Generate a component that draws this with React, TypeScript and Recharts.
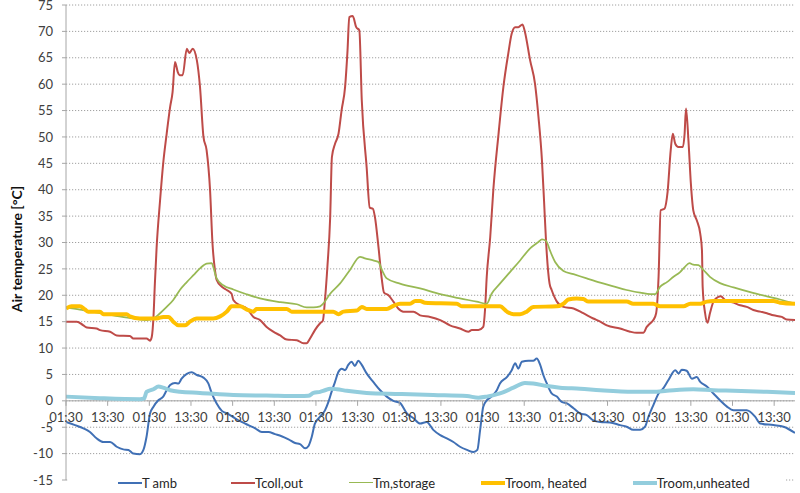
import React from "react"
import {
  LineChart,
  Line,
  XAxis,
  YAxis,
  CartesianGrid,
  ReferenceLine,
  Legend,
} from "recharts"

// hours since first 01:30 reading, value in °C
const tAmb: [number, number][] = [
  [0, -4.0], [2.6, -4.6], [5.0, -5.2], [6.9, -5.9], [8.8, -7.1], [10.8, -7.8], [12.7, -7.8],
  [14.6, -8.7], [16.5, -9.2], [18.0, -9.3], [19.4, -10.0], [21.3, -10.1], [22.3, -9.3], [23.2, -6.8],
  [24.2, -2.4], [25.2, -1.1], [26.6, 0.1], [28.0, 0.8], [29.0, 2.0], [30.0, 3.0], [31.4, 3.4],
  [32.4, 3.3], [33.3, 4.2], [34.8, 5.1], [36.2, 5.4], [37.7, 4.9], [39.6, 4.4], [41.0, 3.3],
  [42.0, 1.4], [43.4, -0.5], [44.9, -1.9], [46.8, -2.5], [48.7, -3.3], [50.6, -4.0], [52.5, -4.6],
  [54.5, -5.2], [56.4, -5.9], [58.3, -5.9], [60.2, -6.3], [62.1, -6.7], [64.1, -7.3], [66.0, -8.0],
  [67.4, -8.2], [68.9, -9.0], [69.8, -8.6], [70.8, -6.8], [71.7, -4.3], [73.2, -3.0], [74.6, -1.8],
  [75.6, -0.2], [76.5, 1.7], [77.5, 3.6], [78.5, 5.5], [79.4, 6.1], [80.4, 5.8], [81.3, 6.8],
  [82.3, 7.4], [83.2, 6.6], [84.2, 7.6], [85.2, 6.8], [86.6, 5.2], [88.5, 3.6], [90.5, 2.0],
  [92.4, 0.8], [94.3, 0.0], [96.2, -0.4], [98.2, -2.4], [100.1, -3.3], [102.0, -4.3], [103.9, -4.0],
  [105.8, -5.5], [107.8, -6.5], [109.7, -7.1], [111.6, -7.8], [113.5, -8.7], [115.5, -9.3],
  [117.4, -9.7], [118.5, -9.3], [119.3, -5.5], [120.2, -1.1], [121.2, 0.1], [122.6, 0.8],
  [124.1, 2.0], [125.0, 3.3], [127.0, 4.5], [128.4, 5.8], [129.4, 7.1], [130.3, 6.1], [131.3, 7.4],
  [133.2, 7.6], [134.6, 7.6], [135.6, 8.0], [136.6, 6.8], [137.5, 4.9], [138.5, 3.3], [139.9, 1.4],
  [141.4, 0.8], [142.8, -0.2], [144.3, -0.5], [146.2, -1.4], [148.1, -2.4], [150.0, -2.7],
  [151.9, -3.7], [153.9, -4.0], [156.7, -4.1], [159.6, -4.6], [161.5, -4.9], [163.4, -5.5],
  [165.4, -5.5], [166.8, -4.9], [167.8, -3.0], [169.2, -0.8], [170.7, 1.4], [172.1, 2.4],
  [173.5, 3.9], [175.5, 5.8], [176.5, 5.2], [177.4, 5.9], [178.8, 5.7], [180.3, 4.2], [181.7, 4.5],
  [182.7, 3.6], [184.6, 2.7], [186.5, 1.4], [188.4, 0.1], [190.4, -1.1], [192.3, -1.8],
  [196.1, -1.8], [198.5, -3.0], [200.0, -4.3], [203.8, -4.6], [206.7, -4.9], [210, -6.1],
]

const tCollOut: [number, number][] = [
  [0, 15.0], [3.1, 15.0], [5.0, 14.3], [6.0, 13.9], [8.8, 13.7], [9.8, 13.4], [12.7, 13.1],
  [14.6, 12.4], [18.4, 12.3], [19.4, 11.8], [23.2, 11.8], [24.2, 11.4], [24.7, 12.1], [25.2, 15.9],
  [25.6, 22.2], [26.1, 29.0], [27.1, 38.0], [28.0, 45.0], [29.0, 50.6], [30.0, 55.7], [30.7, 58.5],
  [31.4, 64.2], [32.2, 62.3], [32.8, 61.7], [33.6, 61.7], [34.8, 66.7], [35.5, 65.9], [36.5, 66.7],
  [37.7, 64.5], [38.6, 59.5], [39.6, 50.0], [40.5, 47.5], [41.5, 39.9], [42.2, 29.8], [42.9, 24.8],
  [43.4, 22.9], [44.9, 21.6], [46.3, 21.0], [47.7, 20.3], [48.2, 19.1], [50.1, 18.1], [52.1, 17.5],
  [54.0, 15.9], [55.9, 15.3], [57.8, 14.0], [59.7, 13.1], [61.7, 12.4], [63.6, 11.6], [66.5, 11.5],
  [68.4, 10.9], [69.3, 10.9], [70.3, 11.8], [71.7, 13.4], [73.2, 14.7], [74.0, 15.2], [74.6, 19.1],
  [75.3, 25.4], [76.1, 34.8], [76.6, 46.2], [77.5, 48.7], [78.5, 50.6], [79.4, 55.1], [80.4, 59.5],
  [81.1, 66.4], [81.6, 72.7], [82.6, 72.9], [83.6, 70.8], [84.5, 70.2], [85.2, 57.0], [86.6, 44.3],
  [87.5, 36.6], [88.4, 36.4], [89.0, 34.8], [90.0, 29.2], [91.0, 22.9], [91.6, 20.5], [92.9, 20.0],
  [94.3, 18.8], [95.7, 17.5], [97.2, 16.9], [100.1, 16.9], [102.0, 16.2], [104.9, 15.9],
  [107.8, 15.3], [110.6, 14.3], [113.5, 13.7], [115.9, 13.1], [116.9, 13.4], [118.8, 13.4],
  [120.2, 14.0], [120.7, 17.2], [121.2, 23.5], [122.2, 31.0], [123.1, 40.0], [124.6, 50.6],
  [126.0, 59.5], [127.4, 65.8], [128.4, 69.6], [129.4, 70.8], [130.3, 70.8], [131.5, 71.3],
  [132.2, 69.9], [133.7, 64.5], [135.1, 60.1], [136.1, 53.8], [137.1, 45.6], [137.7, 38.0],
  [138.3, 30.0], [139.3, 22.2], [139.9, 21.0], [141.4, 18.8], [143.3, 17.8], [146.2, 17.5],
  [149.0, 16.6], [151.9, 15.6], [153.9, 15.0], [155.8, 14.3], [159.6, 13.7], [162.5, 13.1],
  [164.4, 12.9], [166.3, 12.9], [167.3, 14.0], [168.3, 14.7], [169.2, 15.3], [170.0, 16.6],
  [170.7, 23.5], [171.3, 36.1], [172.4, 36.4], [173.3, 39.6], [174.2, 47.5], [174.8, 50.6],
  [175.5, 48.7], [176.4, 48.1], [177.7, 48.1], [178.2, 50.6], [178.6, 55.4], [179.3, 49.4],
  [180.0, 41.2], [180.7, 36.1], [181.7, 34.2], [182.7, 31.7], [183.2, 28.5], [183.4, 21.6],
  [184.1, 16.6], [184.8, 14.8], [185.5, 16.6], [186.5, 18.8], [187.9, 19.7], [188.6, 19.8],
  [189.9, 19.1], [192.3, 18.6], [194.2, 18.1], [196.1, 17.8], [198.0, 17.2], [200.0, 16.9],
  [201.9, 16.6], [203.8, 16.2], [206.2, 15.9], [207.6, 15.4], [210, 15.3],
]

const tmStorage: [number, number][] = [
  [0, 17.7], [4.0, 17.3], [9.8, 16.6], [13.6, 16.2], [19.4, 15.6], [23.2, 15.3], [25.2, 15.6],
  [27.1, 16.6], [29.0, 17.8], [30.9, 19.1], [32.8, 21.0], [34.8, 22.5], [36.7, 23.8], [38.6, 25.1],
  [40.5, 26.0], [42.0, 26.1], [42.4, 25.4], [43.4, 23.2], [45.3, 21.9], [48.2, 21.1], [52.0, 20.2],
  [55.9, 19.4], [61.7, 18.7], [66.5, 18.3], [69.3, 17.7], [71.3, 17.7], [73.2, 17.9], [74.1, 18.4],
  [76.1, 20.3], [78.9, 22.2], [81.8, 24.8], [84.7, 27.3], [86.1, 27.0], [88.5, 26.6], [90.0, 26.3],
  [91.0, 24.8], [92.4, 23.2], [96.2, 22.2], [102.0, 21.3], [107.8, 20.2], [113.5, 19.4],
  [118.3, 18.8], [121.2, 18.4], [122.6, 20.3], [125.0, 22.2], [127.9, 24.4], [130.8, 26.6],
  [133.7, 28.9], [136.1, 30.1], [137.1, 30.6], [138.3, 30.3], [139.4, 28.5], [140.9, 26.3],
  [143.3, 24.6], [146.2, 24.0], [150.0, 23.2], [153.9, 22.4], [157.7, 21.7], [161.5, 21.0],
  [165.4, 20.5], [168.3, 20.2], [169.7, 20.2], [171.1, 21.6], [173.1, 22.5], [175.0, 23.5],
  [176.9, 24.4], [178.3, 25.4], [179.6, 26.1], [180.7, 25.8], [182.2, 25.7], [183.6, 24.8],
  [185.5, 23.5], [188.4, 22.3], [192.3, 21.5], [197.1, 20.6], [201.9, 19.8], [205.7, 19.2],
  [210, 18.4],
]

const troomHeated: [number, number][] = [
  [0, 17.5], [1.6, 17.9], [4.0, 17.9], [5.5, 17.3], [6.4, 16.9], [9.8, 16.9], [10.8, 16.4],
  [17.5, 16.4], [18.4, 16.0], [21.3, 15.6], [26.1, 15.6], [28.0, 15.9], [29.5, 15.9], [30.9, 15.0],
  [32.4, 14.3], [34.3, 14.3], [35.7, 15.0], [37.7, 15.6], [42.4, 15.6], [44.4, 16.0], [46.3, 16.9],
  [47.7, 17.9], [50.1, 17.9], [52.1, 17.3], [54.0, 16.9], [54.9, 17.4], [63.6, 17.4], [65.0, 16.9],
  [77.0, 16.9], [78.5, 16.4], [79.9, 16.9], [83.8, 17.1], [85.2, 17.8], [86.6, 17.4], [92.4, 17.4],
  [94.3, 18.0], [96.2, 18.4], [99.1, 18.4], [100.6, 18.9], [102.0, 18.9], [103.4, 18.6],
  [112.6, 18.4], [114.0, 17.9], [125.0, 17.9], [127.0, 16.9], [128.9, 16.4], [130.8, 16.4],
  [132.7, 16.9], [134.6, 17.8], [141.4, 17.9], [143.3, 18.4], [144.7, 19.2], [147.1, 19.4],
  [149.0, 19.3], [150.5, 18.8], [161.5, 18.8], [163.4, 18.4], [169.2, 18.4], [171.1, 17.9],
  [177.9, 17.9], [179.8, 18.4], [182.7, 18.4], [184.6, 18.8], [186.5, 18.9], [203.8, 18.9],
  [205.7, 18.6], [210, 18.4],
]

const troomUnheated: [number, number][] = [
  [0, 0.8], [9.8, 0.5], [21.3, 0.3], [22.5, 0.45], [23.2, 1.7], [25.2, 2.2], [26.6, 2.7],
  [28.0, 2.5], [30.0, 2.0], [32.8, 1.7], [38.6, 1.5], [48.2, 1.1], [57.8, 1.0], [67.4, 0.9],
  [69.8, 0.95], [71.3, 1.5], [73.2, 1.7], [74.6, 2.0], [76.1, 2.3], [78.0, 2.2], [80.9, 1.9],
  [86.6, 1.5], [96.2, 1.3], [105.8, 1.1], [115.5, 0.9], [118.8, 0.6], [121.2, 0.8], [125.0, 1.4],
  [128.9, 2.5], [132.2, 3.4], [134.6, 3.3], [138.5, 2.8], [142.3, 2.5], [148.1, 2.3],
  [153.9, 2.0], [163.4, 1.7], [169.2, 1.7], [173.1, 1.9], [180.7, 2.2], [186.5, 2.0],
  [192.3, 1.9], [201.9, 1.7], [210, 1.5],
]

const tickHours = [0, 12, 24, 36, 48, 60, 72, 84, 96, 108, 120, 132, 144, 156, 168, 180, 192, 204]
const tickLabels = [
  "01:30", "13:30", "01:30", "13:30", "01:30", "13:30", "01:30", "13:30", "01:30",
  "13:30", "01:30", "13:30", "01:30", "13:30", "01:30", "13:30", "01:30", "13:30",
]
const yTicks = [-15, -10, -5, 0, 5, 10, 15, 20, 25, 30, 35, 40, 45, 50, 55, 60, 65, 70, 75]

const FONT = "Lato, 'Open Sans', sans-serif"
const W = 800
const H = 493
const MARGIN = { top: 5, right: 5, bottom: 0, left: 0 }
const X_AXIS_H = 13
const Y_MIN = -15
const Y_MAX = 75
const PLOT_H = H - MARGIN.top - MARGIN.bottom - X_AXIS_H
// distance from plot bottom up to the 0 °C line, where Excel crosses the time axis
const ZERO_SHIFT = (PLOT_H * (0 - Y_MIN)) / (Y_MAX - Y_MIN)

const series = [
  { key: "tamb", name: "T amb", data: tAmb, color: "#4070B5", width: 2 },
  { key: "tcoll", name: "Tcoll,out", data: tCollOut, color: "#BE4B48", width: 2 },
  { key: "tm", name: "Tm,storage", data: tmStorage, color: "#98B954", width: 1.75 },
  { key: "heated", name: "Troom, heated", data: troomHeated, color: "#FFC000", width: 4 },
  { key: "unheated", name: "Troom,unheated", data: troomUnheated, color: "#93CDDD", width: 4 },
]

function TimeTick(props: any) {
  const { x, y, payload } = props
  const i = tickHours.indexOf(payload.value)
  const y0 = y - ZERO_SHIFT
  return (
    <g>
      <line x1={x} x2={x} y1={y0} y2={y0 + 5} stroke="#A6A6A6" />
      <text x={x} y={y0 + 12} dy="0.71em" textAnchor="middle" fontSize={13} fontFamily={FONT} fill="#404040">
        {tickLabels[i]}
      </text>
    </g>
  )
}

function LegendBox() {
  return (
    <div
      style={{
        display: "flex",
        flexWrap: "nowrap",
        alignItems: "center",
        height: 19,
        paddingLeft: 50,
        background: "#fff",
        fontFamily: FONT,
        fontSize: 13,
        color: "#262626",
        whiteSpace: "nowrap",
      }}
    >
      {series.map((s, i) => (
        <span
          key={s.key}
          style={{ display: "inline-flex", alignItems: "center", flexShrink: 0, marginRight: i === 0 ? 54 : 46 }}
        >
          <span style={{ display: "inline-block", width: 24, height: s.width, background: s.color }} />
          {s.name}
        </span>
      ))}
    </div>
  )
}

export default function App() {
  return (
    <div style={{ position: "absolute", left: 0, top: 0, width: W, height: H, background: "#fff" }}>
      <LineChart width={W} height={H} margin={MARGIN}>
        <CartesianGrid vertical={false} stroke="#A0A0A0" strokeDasharray="1.2 1.8" />
        <XAxis
          type="number"
          dataKey="h"
          domain={[0, 210]}
          ticks={tickHours}
          interval={0}
          height={X_AXIS_H}
          axisLine={false}
          tickLine={false}
          tickSize={0}
          tickMargin={0}
          tick={<TimeTick />}
          allowDataOverflow
        />
        <YAxis
          type="number"
          domain={[Y_MIN, Y_MAX]}
          ticks={yTicks}
          interval={0}
          width={66}
          axisLine={{ stroke: "#A6A6A6" }}
          tickLine={{ stroke: "#A6A6A6" }}
          tickSize={4}
          tickMargin={9}
          tick={{ fontSize: 13, fontFamily: FONT, fill: "#404040" }}
          label={{
            value: "Air temperature [°C]",
            angle: -90,
            position: { x: 22, y: 244 },
            style: { textAnchor: "middle", fontWeight: 700, fontSize: 14, fontFamily: FONT, fill: "#111" },
          }}
        />
        <ReferenceLine y={0} stroke="#A6A6A6" />
        {series.map((s) => (
          <Line
            key={s.key}
            data={s.data.map(([h, v]) => ({ h, v }))}
            dataKey="v"
            name={s.name}
            type="monotone"
            stroke={s.color}
            strokeWidth={s.width}
            dot={false}
            activeDot={false}
            isAnimationActive={false}
          />
        ))}
        <Legend
          layout="horizontal"
          verticalAlign="middle"
          align="center"
          wrapperStyle={{ top: 473, left: 68, width: 717, height: 19 }}
          content={<LegendBox />}
        />
      </LineChart>
    </div>
  )
}
